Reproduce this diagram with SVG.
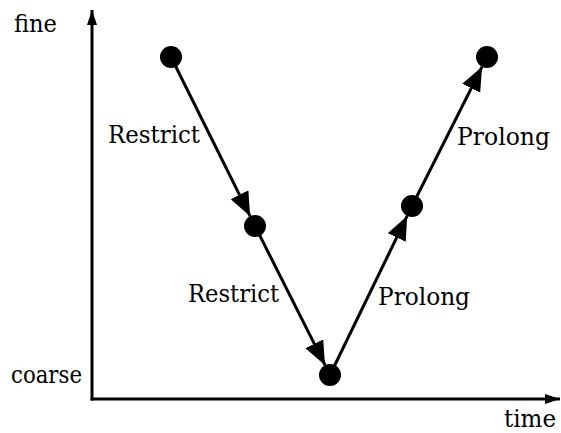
<svg xmlns="http://www.w3.org/2000/svg" width="561" height="433" viewBox="0 0 561 433">
  <style>
    .lbl { font-family: "DejaVu Serif", "Liberation Serif", serif; font-size: 24px; fill: #000; }
    .ax { stroke: #000; stroke-width: 3; fill: none; }
    .edge { stroke: #000; stroke-width: 3; fill: none; }
    .node { fill: #000; }
  </style>
  <defs>
    <marker id="big" viewBox="0 0 24 20" refX="24" refY="10" markerWidth="24" markerHeight="20" markerUnits="userSpaceOnUse" orient="auto">
      <path d="M0,0 L24,10 L0,20 z" fill="#000"/>
    </marker>
    <marker id="axh" viewBox="0 0 15 10" refX="15" refY="5" markerWidth="15" markerHeight="10" markerUnits="userSpaceOnUse" orient="auto">
      <path d="M0,0 L15,5 L0,10 z" fill="#000"/>
    </marker>
  </defs>
  <g id="axes">
    <line class="ax" x1="92" y1="400.5" x2="92" y2="10" marker-end="url(#axh)"/>
    <line class="ax" x1="90.5" y1="399" x2="560" y2="399" marker-end="url(#axh)"/>
    <text class="lbl" x="14" y="32" textLength="43" lengthAdjust="spacingAndGlyphs">fine</text>
    <text class="lbl" x="11" y="383" textLength="71" lengthAdjust="spacingAndGlyphs">coarse</text>
    <text class="lbl" x="504" y="427" textLength="52" lengthAdjust="spacingAndGlyphs">time</text>
  </g>
  <g id="connectors">
    <line class="edge" x1="171" y1="57" x2="250.1" y2="216.2" marker-end="url(#big)"/>
    <line class="edge" x1="255" y1="226" x2="325.05" y2="365.2" marker-end="url(#big)"/>
    <line class="edge" x1="330" y1="375" x2="407.2" y2="215.9" marker-end="url(#big)"/>
    <line class="edge" x1="412" y1="206" x2="482.05" y2="66.8" marker-end="url(#big)"/>
    <text class="lbl" x="108" y="143" textLength="92" lengthAdjust="spacingAndGlyphs">Restrict</text>
    <text class="lbl" x="188" y="302" textLength="91" lengthAdjust="spacingAndGlyphs">Restrict</text>
    <text class="lbl" x="378" y="305" textLength="92" lengthAdjust="spacingAndGlyphs">Prolong</text>
    <text class="lbl" x="457" y="145" textLength="93" lengthAdjust="spacingAndGlyphs">Prolong</text>
  </g>
  <g id="n1"><circle class="node" cx="171" cy="57" r="11"/></g>
  <g id="n2"><circle class="node" cx="255" cy="226" r="11"/></g>
  <g id="n3"><circle class="node" cx="330" cy="375" r="11"/></g>
  <g id="n4"><circle class="node" cx="412" cy="206" r="11"/></g>
  <g id="n5"><circle class="node" cx="487" cy="57" r="11"/></g>
</svg>
